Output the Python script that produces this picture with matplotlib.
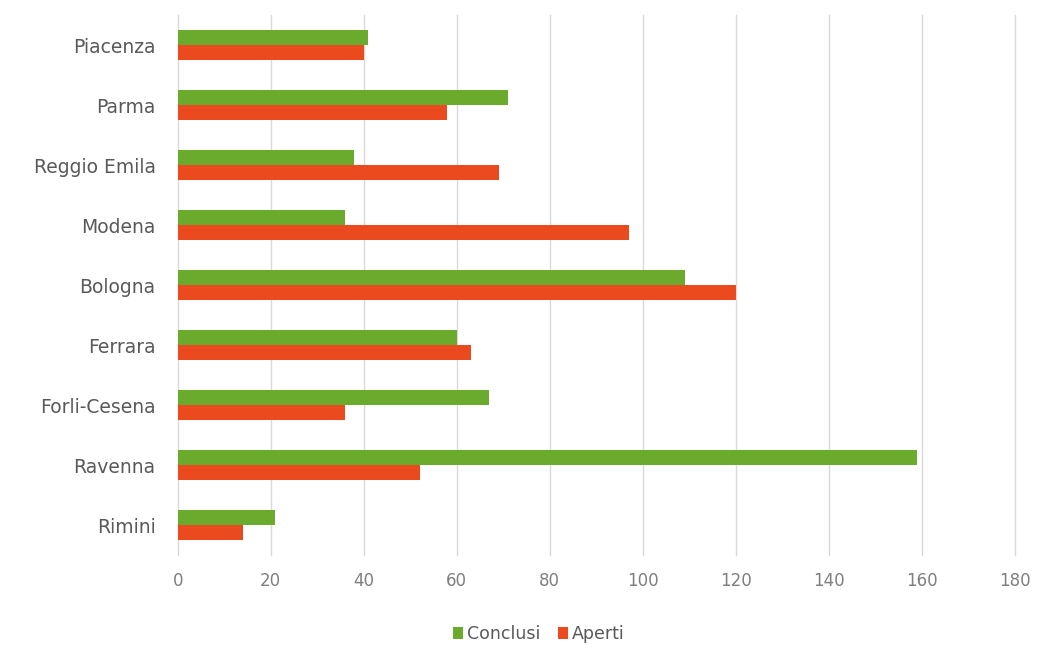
import matplotlib
matplotlib.use("Agg")
import matplotlib.pyplot as plt
import numpy as np

categories = ["Piacenza", "Parma", "Reggio Emila", "Modena", "Bologna",
              "Ferrara", "Forli-Cesena", "Ravenna", "Rimini"]
conclusi = [41, 71, 38, 36, 109, 60, 67, 159, 21]
aperti = [40, 58, 69, 97, 120, 63, 36, 52, 14]
xticks = [0, 20, 40, 60, 80, 100, 120, 140, 160, 180]

green = "#6AAA2C"
red = "#EA4A1E"
txt = "#595959"

plt.rcParams['font.family'] = ['DejaVu Sans']

fig = plt.figure(figsize=(10.46, 6.64), dpi=100)
ax = fig.add_axes([0.170, 0.164, 0.800, 0.813])

y = np.arange(len(categories))
h = 0.25
ax.barh(y - h / 2, conclusi, height=h, color=green, label="Conclusi", zorder=3)
ax.barh(y + h / 2, aperti, height=h, color=red, label="Aperti", zorder=3)

ax.set_ylim(len(categories) - 0.5, -0.5)
ax.set_xlim(0, 180)
ax.set_yticks(y)
ax.set_yticklabels(categories, fontsize=13.5, color=txt)
ax.set_xticks(xticks)
ax.set_xticklabels([str(v) for v in xticks], fontsize=12, color="#7f7f7f")
ax.tick_params(axis='both', length=0, pad=12)
ax.tick_params(axis='y', pad=16)
ax.grid(axis='x', color="#d9d9d9", linewidth=1, zorder=0)
for gl in ax.get_xgridlines():
    gl.set_clip_on(False)
for s in ax.spines.values():
    s.set_visible(False)

leg = fig.legend(loc="center", bbox_to_anchor=(0.515, 0.045), ncol=2, frameon=False,
                 fontsize=12.5, handlelength=0.6, handleheight=0.6, handletextpad=0.2,
                 columnspacing=1.0)
for t in leg.get_texts():
    t.set_color(txt)

fig.savefig("out.png", dpi=100)
